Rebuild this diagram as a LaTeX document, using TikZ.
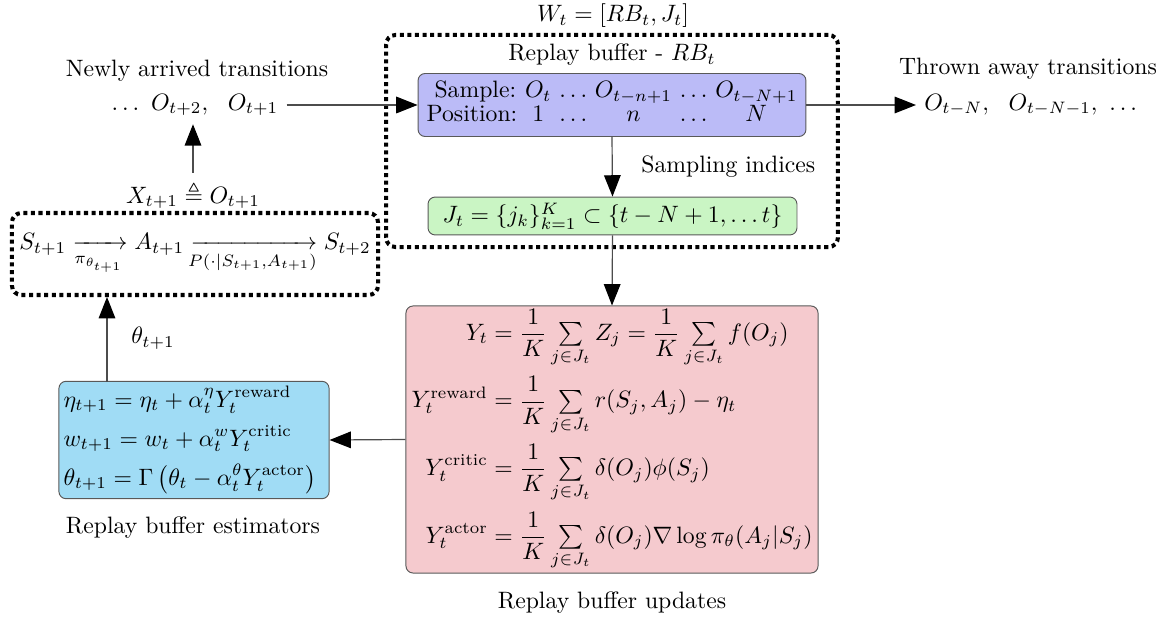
\documentclass[tikz,border=0pt]{standalone}
\usepackage{amsmath,amssymb}
\usetikzlibrary{arrows.meta}
\definecolor{samplecol}{RGB}{187,187,247}
\definecolor{indexcol}{RGB}{202,245,196}
\definecolor{updatecol}{RGB}{245,202,206}
\definecolor{estcol}{RGB}{160,220,245}
\newcommand{\smallsum}{\mathop{\textstyle\sum}\limits}
\begin{document}
\begin{tikzpicture}[x=0.422pt, y=-0.422pt,
    box/.style = {draw=black!65, rounded corners=3pt, inner sep=1pt},
    dotbox/.style = {draw, line width=1.7pt, dash pattern=on 1.7pt off 1.5pt, rounded corners=4pt},
    arr/.style = {draw=black!70, line width=0.5pt, -{Triangle[length=9pt,width=7pt,black]}}]
  \useasboundingbox (0,0) rectangle (1167,624);

  % replay buffer
  \node[dotbox, minimum width=190.7pt, minimum height=89.5pt] (wbox) at (612,141) {};
  \node (wtitle) at (613,16) {$W_t = [RB_t, J_t]$};
  \node (rbtitle) at (612,55) {Replay buffer - $RB_t$};
  \node[box, fill=samplecol, minimum width=163.7pt, minimum height=26.6pt] (samplebox) at (612,105)
    {\renewcommand\arraystretch{0.85}%
     \begin{tabular}{@{}l@{\ }c@{\ }c@{\ }c@{\ }c@{\ }c@{}}
       \ Sample: & $O_t$ & $\ldots$ & $O_{t-n+1}$ & $\ldots$ & $O_{t-N+1}$\\
       Position: & $1$ & $\ldots$ & $n$ & $\ldots$ & $N$
     \end{tabular}};
  \node[box, fill=indexcol, minimum width=155.7pt, minimum height=16pt] (indexbox) at (612.5,216)
    {$J_t = \{j_k\}_{k=1}^K \subset \{t-N+1, \ldots t\}$};
  \node[anchor=west] (samplabel) at (633,167) {Sampling indices};

  % transitions in and out
  \node (newtitle) at (197,71) {Newly arrived transitions};
  \node (newO) at (195,105) {$\ldots\ O_{t+2},\ \ O_{t+1}$};
  \node (thrtitle) at (1028,69) {Thrown away transitions};
  \node[anchor=west] (thrO) at (916,105) {$O_{t-N},\ \ O_{t-N-1},\ \ldots$};
  \node (xnode) at (193,195) {$X_{t+1} \triangleq O_{t+1}$};

  % environment step
  \node[dotbox, inner sep=1pt, minimum width=154.5pt, minimum height=34.6pt] (chainbox) at (195,254)
    {$S_{t+1} \xrightarrow[\mkern-4mu\pi_{\theta_{t+1}}\mkern-4mu]{} A_{t+1}
      \xrightarrow[\mkern-8mu P(\cdot|S_{t+1},A_{t+1})\mkern-8mu]{} S_{t+2}$};

  % updates
  \node[box, fill=updatecol, minimum width=173.9pt, minimum height=112.7pt] (updatebox) at (612,439.5)
    {$\begin{aligned}
      Y_t &= \frac{1}{K}\smallsum_{j\in J_t} Z_j = \frac{1}{K}\smallsum_{j\in J_t} f(O_j)\\
      Y_t^{\text{reward}} &= \frac{1}{K}\smallsum_{j\in J_t} r(S_j,A_j) - \eta_t\\
      Y_t^{\text{critic}} &= \frac{1}{K}\smallsum_{j\in J_t} \delta(O_j)\phi(S_j)\\
      Y_t^{\text{actor}} &= \frac{1}{K}\smallsum_{j\in J_t} \delta(O_j)\nabla\log\pi_\theta(A_j|S_j)
    \end{aligned}$};
  \node (updlabel) at (612,603) {Replay buffer updates};
  \node[box, fill=estcol, inner sep=2pt, text width=110pt, minimum height=49pt] (estbox) at (194,440)
    {$\begin{aligned}
      &\eta_{t+1} = \eta_t + \alpha_t^{\eta} Y_t^{\text{reward}}\\
      &w_{t+1} = w_t + \alpha_t^{w} Y_t^{\text{critic}}\\
      &\theta_{t+1} = \Gamma\left(\theta_t - \alpha_t^{\theta} Y_t^{\text{actor}}\right)
    \end{aligned}$};
  \node (estlabel) at (193,528) {Replay buffer estimators};
  \coordinate (thetaup) at (107,382);
  \node (thetalabel) at (153,338) {$\theta_{t+1}$};

  \draw[arr] (newO.east) -- (newO.east -| samplebox.west);
  \draw[arr] (samplebox.east) -- (thrO.west);
  \draw[arr] (xnode.north) -- (xnode.north |- newO.south);
  \draw[arr] (samplebox.south) -- (indexbox.north);
  \draw[arr] (indexbox.south) -- (updatebox.north);
  \draw[arr] (updatebox.west) -- (estbox.east);
  \draw[arr] (thetaup) -- (thetaup |- chainbox.south);
\end{tikzpicture}
\end{document}
